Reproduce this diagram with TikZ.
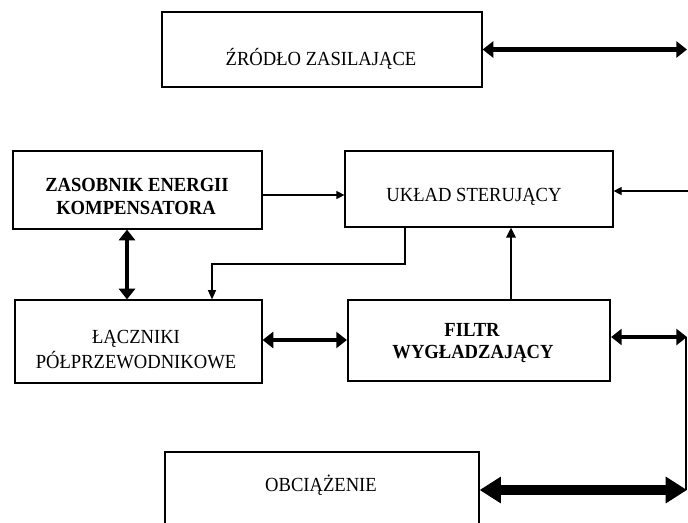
\documentclass[tikz,border=0pt]{standalone}
\usepackage{fontspec}
\setmainfont{Liberation Serif}[FakeStretch=0.93]
\usetikzlibrary{arrows.meta}
\begin{document}
\begin{tikzpicture}[x=0.75pt,y=-0.75pt,
  box/.style={draw, line width=0.9pt, inner sep=0pt},
  boldbox/.style={draw, line width=1.6pt, inner sep=0pt},
  lbl/.style={inner sep=0pt, anchor=base, font=\fontsize{15}{18}\selectfont},
  blbl/.style={lbl, font=\fontsize{15}{18}\selectfont\bfseries},
  thinarrow/.style={line width=0.8pt, -{Triangle[length=6pt,width=6pt]}},
  midarrow/.style={line width=1.1pt, -{Triangle[length=7pt,width=6pt]}},
  uparrow/.style={line width=1.5pt, -{Triangle[length=7.5pt,width=7pt]}},
  bigarrow/.style={line width=3.2pt, {Triangle[length=8pt,width=12pt]}-{Triangle[length=8pt,width=12pt]}},
  hugearrow/.style={line width=7.5pt, {Triangle[length=16pt,width=19pt]}-{Triangle[length=16pt,width=19pt]}}
]
\useasboundingbox (0,0) rectangle (688,522);
\clip (0,0) rectangle (688,522);

% boxes
\node[box, minimum width=240pt, minimum height=56.25pt] (zrodlo) at (322,49.5) {};
\node[box, minimum width=186.75pt, minimum height=58.5pt] (zasob) at (137.5,190) {};
\node[box, minimum width=201pt, minimum height=57pt] (uklad) at (479,189) {};
\node[box, minimum width=185.25pt, minimum height=62.25pt] (lacz) at (138.5,341.5) {};
\node[boldbox, minimum width=196.5pt, minimum height=60.75pt] (filtr) at (479,340.5) {};
\node[box, minimum width=235.5pt, minimum height=60pt] (obc) at (322,492) {};

% texts
\node[lbl] (tzr) at (321,65) {ŹRÓDŁO ZASILAJĄCE};
\node[blbl] (tza1) at (137,191.7) {ZASOBNIK ENERGII};
\node[blbl] (tza2) at (136,214) {KOMPENSATORA};
\node[lbl] (tuk) at (474,201.7) {UKŁAD STERUJĄCY};
\node[lbl] (tla1) at (136,343.3) {ŁĄCZNIKI};
\node[lbl] (tla2) at (136,368.3) {PÓŁPRZEWODNIKOWE};
\node[blbl] (tfi1) at (472,336.7) {FILTR};
\node[blbl] (tfi2) at (473,358.3) {WYGŁADZAJĄCY};
\node[lbl] (tob) at (321,491.7) {OBCIĄŻENIE};

% free ends
\coordinate (zr) at (687,49.5);
\coordinate (ur) at (688,191);
\coordinate (fr) at (687,337);
\coordinate (ob) at (687,490);

% connectors
\draw[bigarrow] (zrodlo.east) -- (zr);
\draw[thinarrow] (zasob.east |- 0,195) -- (uklad.west |- 0,195);
\draw[thinarrow] (ur) -- (uklad.east |- ur);
\draw[midarrow] (uklad.south -| 405,0) -- (405,264) -| (lacz.north -| 212,0);
\draw[uparrow] (filtr.north -| 511,0) -- (uklad.south -| 511,0);
\draw[bigarrow] (zasob.south -| 127,0) -- (lacz.north -| 127,0);
\draw[bigarrow] (lacz.east |- 0,340) -- (filtr.west |- 0,340);
\draw[bigarrow] (filtr.east |- 0,337) -- (fr);
\draw[line width=1.5pt] (686,337) -- (686,490);
\draw[hugearrow] (obc.east |- 0,490) -- (ob);
\end{tikzpicture}
\end{document}
